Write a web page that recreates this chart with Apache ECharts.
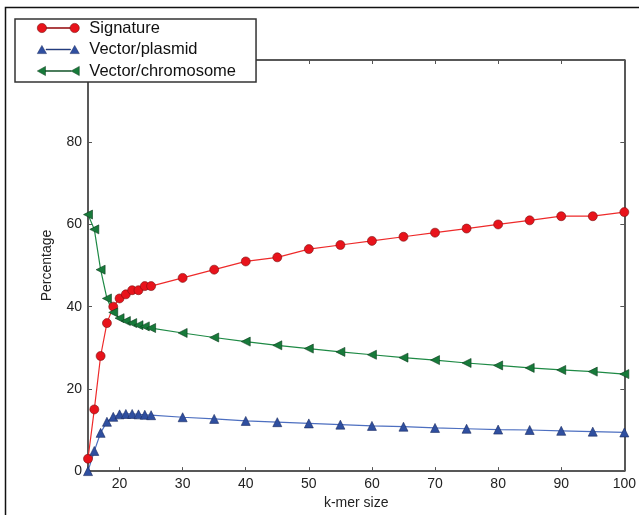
<!DOCTYPE html>
<html><head><meta charset="utf-8">
<script src="https://cdn.jsdelivr.net/npm/echarts@6/dist/echarts.min.js"></script>
<style>html,body{margin:0;padding:0;background:#fff}#c{width:639px;height:515px}</style>
</head><body><div id="c"></div>
<script>
const kmer = [15,16,17,18,19,20,21,22,23,24,25,30,35,40,45,50,55,60,65,70,75,80,85,90,95,100];
const signature = [3,15,28,36,40,42,43,44,44,45,45,47,49,51,52,54,55,56,57,58,59,60,61,62,62,63];
const plasmid = [0,4.9,9.3,12,13.2,13.8,13.9,13.9,13.8,13.7,13.6,13.1,12.7,12.2,11.9,11.6,11.3,11,10.8,10.5,10.3,10.1,10,9.8,9.6,9.4];
const chromosome = [62.4,58.8,49,42,38.6,37.2,36.5,36,35.5,35.2,34.8,33.6,32.5,31.5,30.6,29.8,29,28.3,27.6,27,26.3,25.7,25.1,24.6,24.2,23.6];
const xTicks = [20,30,40,50,60,70,80,90,100];
const yTicks = [0,20,40,60,80];

const pair = a => kmer.map((k,i)=>[k,a[i]]);
const circIcon = 'path://M0.5,5 a4.5,4.5 0 1,0 9,0 a4.5,4.5 0 1,0 -9,0 Z M9.5,4.6 H32.5 V5.4 H9.5 Z M32.5,5 a4.5,4.5 0 1,0 9,0 a4.5,4.5 0 1,0 -9,0 Z';
const triIcon = 'path://M0.5,9 L5,1 L9.5,9 Z M9,4.6 H33 V5.4 H9 Z M32.5,9 L37,1 L41.5,9 Z';
const leftIcon = 'path://M0.5,5 L8.5,0.5 L8.5,9.5 Z M8.5,4.6 H33.5 V5.4 H8.5 Z M33.5,5 L41.5,0.5 L41.5,9.5 Z';
const font = 'Liberation Sans';
const chart = echarts.init(document.getElementById('c'), null, {renderer:'canvas'});
const axisCommon = {
  axisLine:{show:true,onZero:false,lineStyle:{color:'#222',width:1.5}},
  axisTick:{show:true,inside:true,length:4,lineStyle:{color:'#555',width:1}},
  splitLine:{show:false}
};
function ax(extra, ticks){
  return Object.assign({}, axisCommon, extra, {axisTick:Object.assign({},axisCommon.axisTick,{customValues:ticks})});
}
chart.setOption({
  animation:false,
  backgroundColor:'#fff',
  textStyle:{fontFamily:font},
  grid:{left:88,top:60,right:14,bottom:38},
  graphic:[{type:'polyline',shape:{points:[[5.5,520],[5.5,7.5],[645,7.5]]},style:{stroke:'#111',lineWidth:1.5,fill:null},z:0}],
  legend:{
    orient:'vertical',left:15,top:19,
    padding:[0,20,2,22],itemGap:3.5,itemWidth:42,itemHeight:10,
    backgroundColor:'#fff',borderColor:'#333',borderWidth:1.5,
    textStyle:{fontFamily:font,fontSize:16.5,color:'#111',lineHeight:18,padding:[0,0,0,5]},
    z:10,
    data:[
      {name:'Signature',icon:circIcon,itemStyle:{color:'#e8131b',borderColor:'#7a1010',borderWidth:0.6}},
      {name:'Vector/plasmid',icon:triIcon,itemStyle:{color:'#2f4fa0',borderColor:'#1a2a60',borderWidth:0.5}},
      {name:'Vector/chromosome',icon:leftIcon,itemStyle:{color:'#177a3a',borderColor:'#0c3d1d',borderWidth:0.5}}
    ]
  },
  xAxis:[
    ax({type:'value',min:15,max:100,position:'bottom',
      name:'k-mer size',nameLocation:'middle',nameGap:17,
      nameTextStyle:{fontFamily:font,fontSize:14,color:'#222'},
      axisLabel:{customValues:xTicks,fontFamily:font,fontSize:14,color:'#222',margin:6}}, xTicks),
    ax({type:'value',min:15,max:100,position:'top',axisLabel:{show:false}}, xTicks)
  ],
  yAxis:[
    ax({type:'value',min:0,max:100,position:'left',
      name:'Percentage',nameLocation:'middle',nameGap:34,nameRotate:90,
      nameTextStyle:{fontFamily:font,fontSize:14,color:'#222'},
      axisLabel:{customValues:yTicks,fontFamily:font,fontSize:14,color:'#222',margin:6}}, yTicks),
    ax({type:'value',min:0,max:100,position:'right',axisLabel:{show:false}}, yTicks)
  ],
  series:[
    {name:'Signature',type:'line',data:pair(signature),symbol:'circle',symbolSize:9,
      lineStyle:{color:'#ee2a2a',width:1.2},
      itemStyle:{color:'#e8131b',borderColor:'#7a1010',borderWidth:0.6},z:3},
    {name:'Vector/plasmid',type:'line',data:pair(plasmid),symbol:'triangle',symbolSize:[9,9],
      lineStyle:{color:'#4d6fc0',width:1.2},
      itemStyle:{color:'#2f4fa0',borderColor:'#1a2a60',borderWidth:0.6},z:3},
    {name:'Vector/chromosome',type:'line',data:pair(chromosome),symbol:'triangle',symbolRotate:90,symbolSize:[9,9],
      lineStyle:{color:'#1e8a45',width:1.2},
      itemStyle:{color:'#177a3a',borderColor:'#0c3d1d',borderWidth:0.6},z:3}
  ]
});
</script></body></html>
